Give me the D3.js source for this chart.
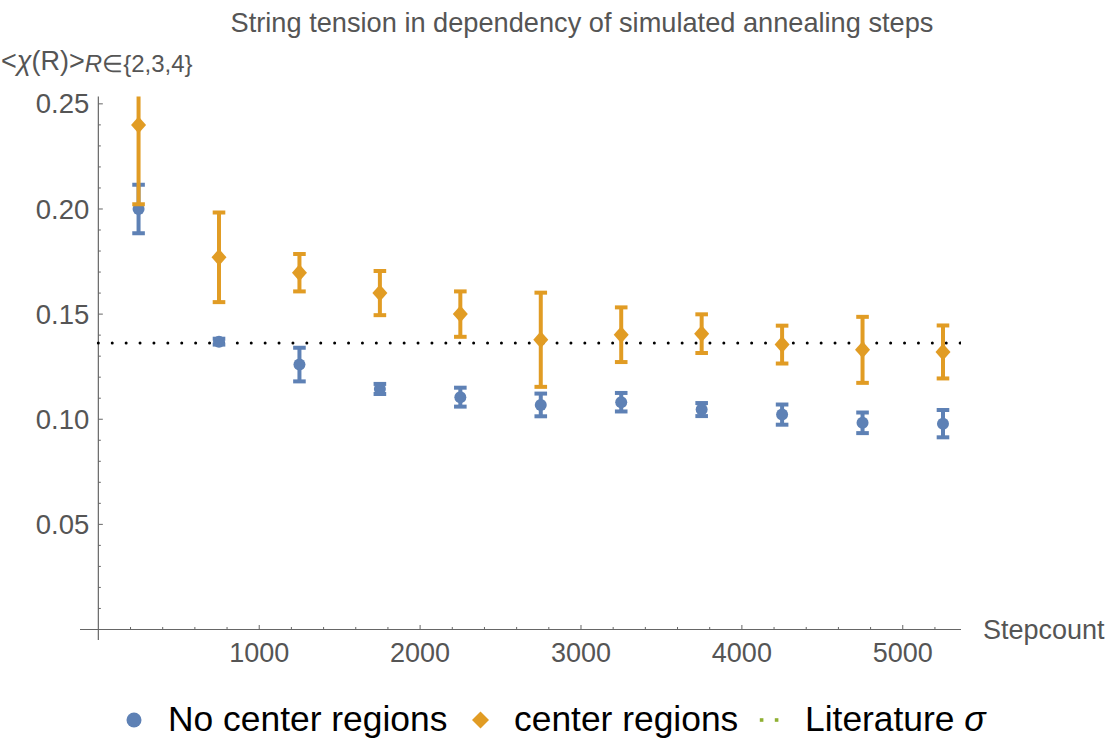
<!DOCTYPE html>
<html>
<head>
<meta charset="utf-8">
<script src="https://cdn.jsdelivr.net/npm/d3@7"></script>
<style>
  body { margin: 0; background: #fff; }
  text { font-family: "Liberation Sans", Arial, sans-serif; }
</style>
</head>
<body>
<div id="chart"></div>
<script>
// stepcounts of the annealing runs
const steps = [250, 750, 1250, 1750, 2250, 2750, 3250, 3750, 4250, 4750, 5250];
// <chi(R)> without center regions, with error
const noCenter = [0.200, 0.1369, 0.1260, 0.1144, 0.1105, 0.1068, 0.1081, 0.1046, 0.1022, 0.0983, 0.0979];
const noCenterErr = [0.0115, 0.0014, 0.0080, 0.0024, 0.0045, 0.0054, 0.0044, 0.0031, 0.0048, 0.0049, 0.0065];
// <chi(R)> with center regions, with error
const center = [0.2399, 0.1770, 0.1697, 0.1600, 0.1500, 0.1378, 0.1402, 0.1407, 0.1355, 0.1330, 0.1320];
const centerErr = [0.0376, 0.0213, 0.0089, 0.0105, 0.0108, 0.0224, 0.0130, 0.0092, 0.0090, 0.0157, 0.0126];
const literatureSigma = 0.1363;

const xTicks = [1000, 2000, 3000, 4000, 5000];
const yTicks = [0.05, 0.10, 0.15, 0.20, 0.25];

const width = 1111, height = 754;
const blue = "#5e81b5", orange = "#e19c24", green = "#8fb032", grey = "#555555", axisGrey = "#666666";

const svg = d3.select("#chart").append("svg")
    .attr("width", width)
    .attr("height", height);

const x = d3.scaleLinear().domain([-114, 5362]).range([80, 961]);
const y = d3.scaleLinear().domain([-0.005, 0.2535]).range([640, 96.5]);

svg.append("defs").append("clipPath")
    .attr("id", "plotclip")
    .append("rect")
    .attr("x", 80).attr("y", 96.5)
    .attr("width", 881).attr("height", 543.5);

// title
svg.append("text")
    .attr("x", 582)
    .attr("y", 32)
    .attr("text-anchor", "middle")
    .style("font-size", "27.2px")
    .attr("fill", grey)
    .text("String tension in dependency of simulated annealing steps");

// y label  <χ(R)>_{R∈{2,3,4}}
const ylab = svg.append("text")
    .attr("x", 1)
    .attr("y", 69.5)
    .style("font-size", "27px")
    .attr("fill", grey);
ylab.append("tspan").text("<");
ylab.append("tspan").style("font-style", "italic").text("χ");
ylab.append("tspan").text("(R)>");
ylab.append("tspan").attr("dy", 2).style("font-size", "24px").style("font-style", "italic").text("R");
ylab.append("tspan").style("font-size", "24px").text("∈{2,3,4}");

// x axis
const xAxis = svg.append("g").attr("transform", `translate(0, ${y(0)})`);
xAxis.append("line")
    .attr("x1", 80).attr("x2", 961)
    .attr("stroke", axisGrey).attr("stroke-width", 1.2);
const xMinor = d3.range(200, 5362, 200).filter(v => v % 1000 !== 0);
xAxis.selectAll(".xminor")
    .data(xMinor)
    .enter().append("line")
    .attr("x1", d => x(d)).attr("x2", d => x(d))
    .attr("y1", 0).attr("y2", -2.5)
    .attr("stroke", axisGrey).attr("stroke-width", 1);
xAxis.selectAll(".xmajor")
    .data(xTicks)
    .enter().append("line")
    .attr("x1", d => x(d)).attr("x2", d => x(d))
    .attr("y1", 0).attr("y2", -4.5)
    .attr("stroke", axisGrey).attr("stroke-width", 1);
xAxis.selectAll(".xlabel")
    .data(xTicks)
    .enter().append("text")
    .attr("x", d => x(d))
    .attr("y", 33)
    .attr("text-anchor", "middle")
    .style("font-size", "27px")
    .attr("fill", grey)
    .text(d => d);
xAxis.append("text")
    .attr("x", 983)
    .attr("y", 0)
    .attr("dy", "0.35em")
    .style("font-size", "27px")
    .attr("fill", grey)
    .text("Stepcount");

// y axis
const yAxis = svg.append("g").attr("transform", `translate(${x(0)}, 0)`);
yAxis.append("line")
    .attr("y1", 96.5).attr("y2", 640)
    .attr("stroke", axisGrey).attr("stroke-width", 1.2);
const yMinor = d3.range(1, 26).map(i => i / 100).filter(v => Math.round(v * 100) % 5 !== 0);
yAxis.selectAll(".yminor")
    .data(yMinor)
    .enter().append("line")
    .attr("y1", d => y(d)).attr("y2", d => y(d))
    .attr("x1", 0).attr("x2", 2.5)
    .attr("stroke", axisGrey).attr("stroke-width", 1);
yAxis.selectAll(".ymajor")
    .data(yTicks)
    .enter().append("line")
    .attr("y1", d => y(d)).attr("y2", d => y(d))
    .attr("x1", 0).attr("x2", 4.5)
    .attr("stroke", axisGrey).attr("stroke-width", 1);
yAxis.selectAll(".ylabel")
    .data(yTicks)
    .enter().append("text")
    .attr("x", -9)
    .attr("y", d => y(d))
    .attr("dy", "0.35em")
    .attr("text-anchor", "end")
    .style("font-size", "27.5px")
    .attr("fill", grey)
    .text(d => d3.format(".2f")(d));

const plot = svg.append("g").attr("clip-path", "url(#plotclip)");

// literature line
plot.append("line")
    .attr("x1", x(0)).attr("x2", x(5362))
    .attr("y1", y(literatureSigma)).attr("y2", y(literatureSigma))
    .attr("stroke", "#000")
    .attr("stroke-width", 3)
    .attr("stroke-linecap", "round")
    .attr("stroke-dasharray", "0 13.9");

function drawSeries(vals, errs, color, shape) {
    const data = steps.map((s, i) => ({ s: s, v: vals[i], e: errs[i] }));
    const g = plot.append("g");
    g.selectAll(".stem")
        .data(data)
        .enter().append("line")
        .attr("x1", d => x(d.s)).attr("x2", d => x(d.s))
        .attr("y1", d => y(d.v + d.e)).attr("y2", d => y(d.v - d.e))
        .attr("stroke", color).attr("stroke-width", 4);
    ["top", "bottom"].forEach(side => {
        g.selectAll(".cap-" + side)
            .data(data)
            .enter().append("line")
            .attr("x1", d => x(d.s) - 6.3).attr("x2", d => x(d.s) + 6.3)
            .attr("y1", d => y(side === "top" ? d.v + d.e : d.v - d.e))
            .attr("y2", d => y(side === "top" ? d.v + d.e : d.v - d.e))
            .attr("stroke", color).attr("stroke-width", 4);
    });
    if (shape === "circle") {
        g.selectAll(".pt")
            .data(data)
            .enter().append("circle")
            .attr("cx", d => x(d.s)).attr("cy", d => y(d.v))
            .attr("r", 6)
            .attr("fill", color);
    } else {
        g.selectAll(".pt")
            .data(data)
            .enter().append("path")
            .attr("transform", d => `translate(${x(d.s)}, ${y(d.v)})`)
            .attr("d", "M0,-8.5L7.5,0L0,8.5L-7.5,0Z")
            .attr("fill", color);
    }
}

drawSeries(noCenter, noCenterErr, blue, "circle");
drawSeries(center, centerErr, orange, "diamond");

// legend
const legend = svg.append("g").attr("transform", "translate(0, 720)");
legend.append("circle").attr("cx", 134).attr("cy", 0).attr("r", 7.5).attr("fill", blue);
legend.append("text").attr("x", 168).attr("y", 11)
    .style("font-size", "35.4px").attr("fill", "#000").text("No center regions");
legend.append("path").attr("transform", "translate(480.5, 0)")
    .attr("d", "M0,-8.5L8.5,0L0,8.5L-8.5,0Z").attr("fill", orange);
legend.append("text").attr("x", 514).attr("y", 11)
    .style("font-size", "35.4px").attr("fill", "#000").text("center regions");
legend.selectAll(".gdot")
    .data([761.6, 776.6])
    .enter().append("rect")
    .attr("x", d => d - 1.8).attr("y", -1.8)
    .attr("width", 3.6).attr("height", 3.6)
    .attr("fill", green);
const lit = legend.append("text").attr("x", 805).attr("y", 11)
    .style("font-size", "35.4px").attr("fill", "#000");
lit.append("tspan").text("Literature ");
lit.append("tspan").style("font-style", "italic").text("σ");
</script>
</body>
</html>
